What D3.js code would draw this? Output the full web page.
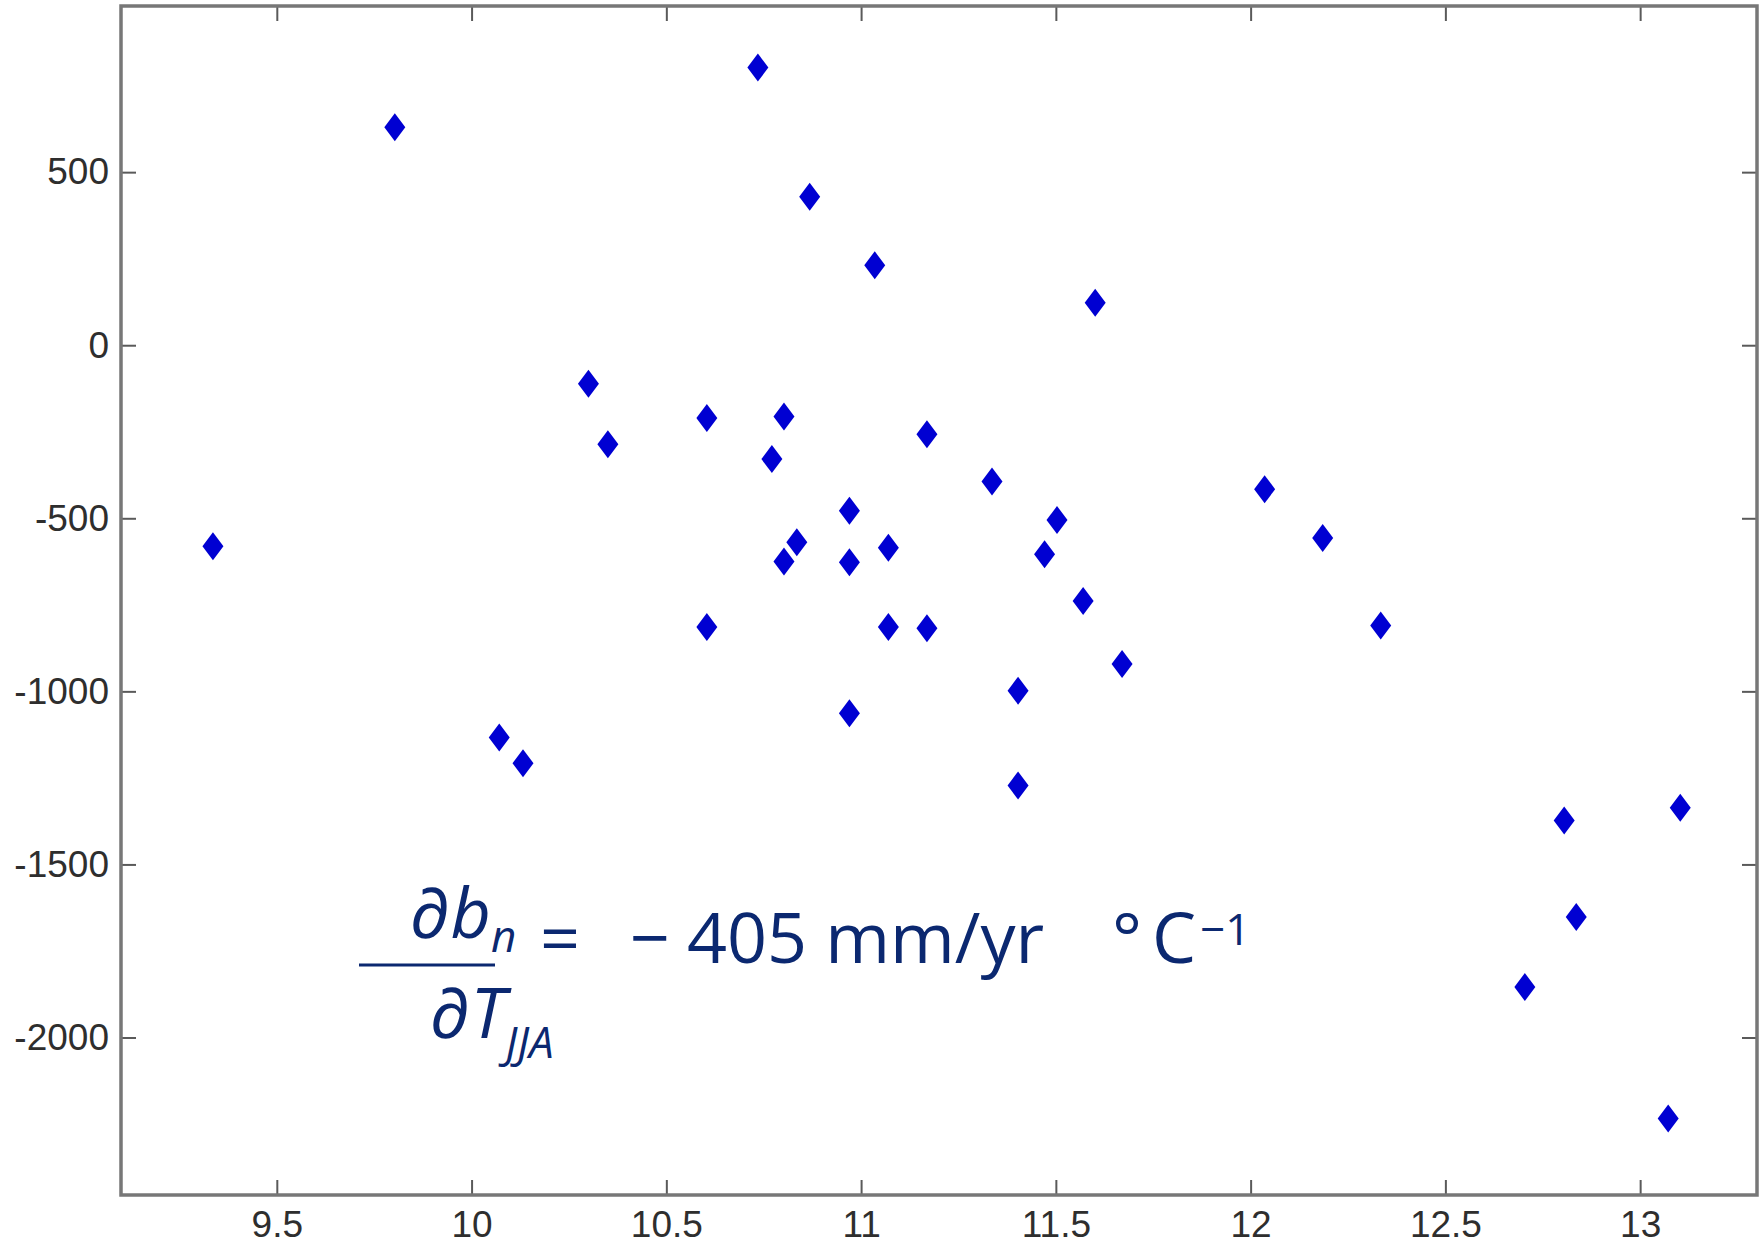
<!DOCTYPE html>
<html>
<head>
<meta charset="utf-8">
<script src="https://cdn.jsdelivr.net/npm/d3@7"></script>
<style>
  html, body { margin: 0; padding: 0; background: #fff; }
  .tick text { font-family: "Liberation Sans", Arial, sans-serif; fill: #2e2e2e; }
  .eq { font-family: "Open Sans", "Noto Sans", sans-serif; fill: #0b2870; }
</style>
</head>
<body>
<div id="chart"></div>
<script>
// Data
const xVals = [9.336, 9.803, 10.071, 10.132, 10.300, 10.350, 10.604, 10.604, 10.735, 10.771,
               10.802, 10.802, 10.835, 10.868, 10.970, 10.970, 10.970, 11.035, 11.070, 11.070,
               11.169, 11.169, 11.336, 11.403, 11.403, 11.471, 11.503, 11.570, 11.601, 11.670,
               12.036, 12.185, 12.334, 12.704, 12.805, 12.836, 13.072, 13.103];
const yVals = [-581, 630, -1133, -1208, -111, -286, -210, -814, 802, -329,
               -206, -625, -569, 429, -478, -627, -1063, 231, -585, -814,
               -257, -818, -394, -998, -1272, -604, -505, -739, 123, -921,
               -416, -557, -810, -1854, -1373, -1652, -2234, -1336];

const xTicks = [9.5, 10, 10.5, 11, 11.5, 12, 12.5, 13];
const yTicks = [-2000, -1500, -1000, -500, 0, 500];

const width = 1760, height = 1246;
const plot = { left: 121, right: 1757, top: 6, bottom: 1195 };

const svg = d3.select("#chart").append("svg")
  .attr("width", width)
  .attr("height", height);

const x = d3.scaleLinear().domain([9.1, 13.3]).range([plot.left, plot.right]);
const y = d3.scaleLinear().domain([-2455, 980]).range([plot.bottom, plot.top]);

const tickLen = 15;
const plain = d => String(d);   // hyphen minus, like the original labels

// Axes, ticks pointing inward on all four sides
function styleAxis(g) {
  g.select(".domain").remove();
  g.selectAll(".tick line").attr("stroke", "#5a5a5a").attr("stroke-width", 2);
  g.selectAll(".tick text").attr("font-size", 37);
}

svg.append("g")
  .attr("transform", `translate(0,${plot.bottom})`)
  .call(d3.axisBottom(x).tickValues(xTicks).tickSize(-tickLen).tickPadding(16).tickFormat(plain))
  .call(styleAxis);

svg.append("g")
  .attr("transform", `translate(0,${plot.top})`)
  .call(d3.axisTop(x).tickValues(xTicks).tickSize(-tickLen).tickFormat(""))
  .call(styleAxis);

svg.append("g")
  .attr("transform", `translate(${plot.left},0)`)
  .call(d3.axisLeft(y).tickValues(yTicks).tickSize(-tickLen).tickPadding(12).tickFormat(plain))
  .call(styleAxis);

svg.append("g")
  .attr("transform", `translate(${plot.right},0)`)
  .call(d3.axisRight(y).tickValues(yTicks).tickSize(-tickLen).tickFormat(""))
  .call(styleAxis);

// Frame
svg.append("rect")
  .attr("x", plot.left)
  .attr("y", plot.top)
  .attr("width", plot.right - plot.left)
  .attr("height", plot.bottom - plot.top)
  .attr("fill", "none")
  .attr("stroke", "#777")
  .attr("stroke-width", 3.5);

// Diamond markers
const dw = 10.5, dh = 14;
svg.append("g")
  .selectAll("path")
  .data(d3.range(xVals.length))
  .enter()
  .append("path")
  .attr("transform", i => `translate(${x(xVals[i])},${y(yVals[i])})`)
  .attr("d", `M0,${-dh}L${dw},0L0,${dh}L${-dw},0Z`)
  .attr("fill", "#0000d2");

// Equation annotation
const eq = svg.append("g").attr("class", "eq");

const num = eq.append("text").attr("x", 410).attr("y", 938).attr("font-size", 70);
num.append("tspan").text("∂");
num.append("tspan").attr("font-style", "italic").text("b");
num.append("tspan").attr("font-style", "italic").attr("font-size", 44).attr("dy", 14).text("n");

eq.append("line")
  .attr("x1", 359).attr("x2", 495)
  .attr("y1", 965).attr("y2", 965)
  .attr("stroke", "#0b2870")
  .attr("stroke-width", 3);

const den = eq.append("text").attr("x", 430).attr("y", 1038).attr("font-size", 70);
den.append("tspan").text("∂");
den.append("tspan").attr("font-style", "italic").text("T");
den.append("tspan").attr("font-style", "italic").attr("font-size", 44).attr("dy", 20).text("JJA");

const rhs = eq.append("text").attr("y", 963).attr("font-size", 70);
rhs.append("tspan").attr("x", 540).text("=");
rhs.append("tspan").attr("x", 630).text("−");
rhs.append("tspan").attr("x", 687).text("405 mm/yr");
rhs.append("tspan").attr("x", 1112).text("°");
rhs.append("tspan").attr("x", 1152).text("C");
rhs.append("tspan").attr("x", 1200).attr("font-size", 44).attr("dy", -18).text("−1");
</script>
</body>
</html>
